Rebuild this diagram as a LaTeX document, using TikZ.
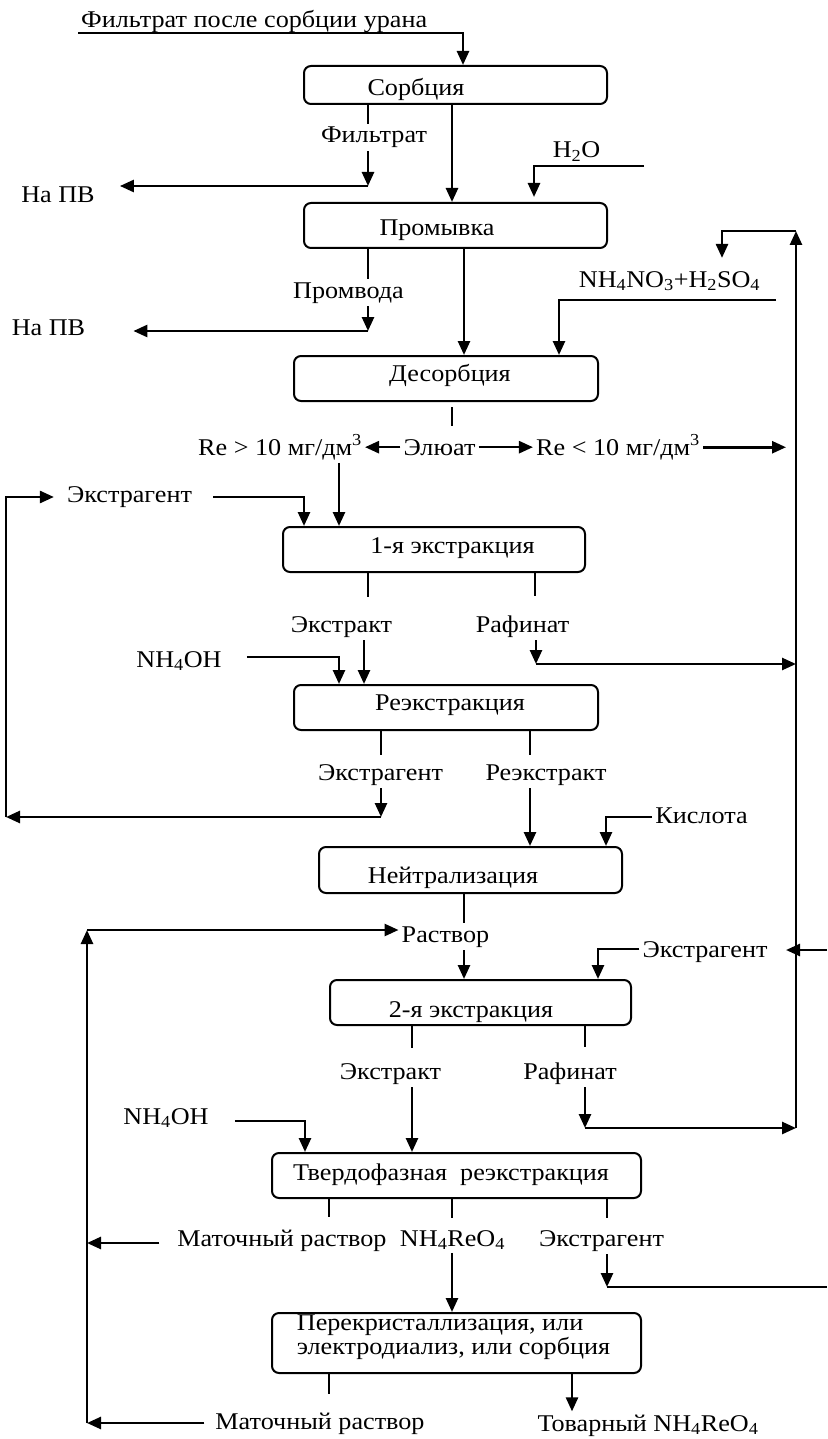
\documentclass[tikz,border=0pt]{standalone}
\usepackage{fontspec}
\setmainfont{Liberation Serif}[FakeStretch=1.09]
\usetikzlibrary{arrows.meta}
\tikzset{
  proc/.style={draw, line width=2pt, rounded corners=7pt, inner sep=0pt},
  lbl/.style={inner sep=3pt, anchor=base},
  line/.style={line width=2.6pt},
  flow/.style={line, -{Triangle[length=14pt,width=12pt]}},
  stub/.style={line width=1.5pt},
}

\begin{document}
\begin{tikzpicture}[x=1pt, y=-1pt, font=\fontsize{24}{24}\selectfont]
\useasboundingbox (0,0) rectangle (827,1439);

% stages
\node[proc, minimum width=303pt, minimum height=38pt, label={[inner sep=3pt, xshift=-39.5pt, yshift=-4.5pt]center:Сорбция}] (sorb) at (455.5,85) {};
\node[proc, minimum width=303pt, minimum height=45pt, label={[inner sep=3pt, xshift=-18.5pt, yshift=-4.4pt]center:Промывка}] (prom) at (455.5,225.5) {};
\node[proc, minimum width=304pt, minimum height=45pt, label={[inner sep=3pt, xshift=4pt, yshift=2.8pt]center:Десорбция}] (desorb) at (446,378.5) {};
\node[proc, minimum width=302pt, minimum height=45pt, label={[inner sep=3pt, xshift=18.5pt, yshift=1.7pt]center:1-я экстракция}] (ext1) at (434,549.5) {};
\node[proc, minimum width=304pt, minimum height=45pt, label={[inner sep=3pt, xshift=4pt, yshift=2.6pt]center:Реэкстракция}] (reext) at (446,707.5) {};
\node[proc, minimum width=303pt, minimum height=46pt, label={[inner sep=3pt, xshift=-17.5pt, yshift=-7.9pt]center:Нейтрализация}] (neut) at (470.5,870) {};
\node[proc, minimum width=301pt, minimum height=45pt, label={[inner sep=3pt, xshift=-9.5pt, yshift=-9.2pt]center:2-я экстракция}] (ext2) at (480.5,1002.5) {};
\node[proc, minimum width=369pt, minimum height=45pt, label={[inner sep=3pt, xshift=-5.5pt, yshift=1pt]center:Твердофазная\ \ реэкстракция}] (solid) at (456.5,1175.5) {};
\node[proc, minimum width=369pt, minimum height=60pt, label={[inner sep=3pt, align=left, xshift=-3pt, yshift=6.3pt]center:{Перекристаллизация, или\\электродиализ, или сорбция}}] (recr) at (456.5,1343) {};

% streams
\node[lbl, anchor=base west] (feed) at (78,28) {Фильтрат после сорбции урана};
\node[lbl] (filt) at (374,143) {Фильтрат};
\node[lbl] (napv1) at (58,203) {На ПВ};
\node[lbl] (h2o) at (576.5,158) {H\textsubscript{2}O};
\node[lbl] (promv) at (348.5,298) {Промвода};
\node[lbl] (napv2) at (48.5,335) {На ПВ};
\node[lbl] (nh4no3) at (669.5,287) {NH\textsubscript{4}NO\textsubscript{3}+H\textsubscript{2}SO\textsubscript{4}};
\node[lbl] (reHi) at (280,455) {Re > 10 мг/дм\textsuperscript{3}};
\node[lbl] (eluat) at (439.5,455) {Элюат};
\node[lbl] (reLo) at (618,455) {Re < 10 мг/дм\textsuperscript{3}};
\node[lbl] (extr1) at (129.5,502) {Экстрагент};
\node[lbl] (ex1) at (341.5,632) {Экстракт};
\node[lbl] (raf1) at (522.5,632) {Рафинат};
\node[lbl] (nh4oh1) at (179,667) {NH\textsubscript{4}OH};
\node[lbl] (extr2) at (380.5,780) {Экстрагент};
\node[lbl] (reextr) at (546,780) {Реэкстракт};
\node[lbl] (acid) at (701.5,823) {Кислота};
\node[lbl] (solut) at (445.5,942) {Раствор};
\node[lbl] (extr3) at (705,957) {Экстрагент};
\node[lbl] (ex2) at (390.5,1079) {Экстракт};
\node[lbl] (raf2) at (570,1079) {Рафинат};
\node[lbl] (nh4oh2) at (166,1124) {NH\textsubscript{4}OH};
\node[lbl] (moth1) at (282,1246) {Маточный раствор};
\node[lbl] (nhre) at (452.5,1246) {NH\textsubscript{4}ReO\textsubscript{4}};
\node[lbl] (extr4) at (601.5,1246) {Экстрагент};
\node[lbl] (moth2) at (320,1429) {Маточный раствор};
\node[lbl] (prod) at (648,1431) {Товарный NH\textsubscript{4}ReO\textsubscript{4}};

% corners
\coordinate (c1) at (463,33);
\coordinate (c2) at (368,186);
\coordinate (c3) at (452,150);
\coordinate (c4) at (644,166);
\coordinate (c5) at (534,166);
\coordinate (c6) at (368,331);
\coordinate (c7) at (464,300);
\coordinate (c8) at (776,300);
\coordinate (c9) at (559,300);
\coordinate (c10) at (722,231);
\coordinate (c11) at (452,420);
\coordinate (c12) at (339,490);
\coordinate (c13) at (304,497);
\coordinate (c14) at (381,817);
\coordinate (c15) at (368,600);
\coordinate (c16) at (535,600);
\coordinate (c17) at (364,660);
\coordinate (c18) at (339,657);
\coordinate (c19) at (536,664);
\coordinate (c20) at (530,800);
\coordinate (c21) at (606,817);
\coordinate (c22) at (464,930);
\coordinate (c23) at (598,949);
\coordinate (c24) at (412,1050);
\coordinate (c26) at (305,1121);
\coordinate (c27) at (585,1128);
\coordinate (c28) at (329,1210);
\coordinate (c29) at (452,1210);
\coordinate (c31) at (607,1287);
\coordinate (c32) at (329,1390);
\coordinate (c33) at (572,1390);
\coordinate (r1) at (796,231);
\coordinate (r2) at (796,1128);
\coordinate (r3) at (827,950);
\coordinate (r5) at (827,1287);
\coordinate (l1) at (6,497);
\coordinate (l2) at (6,817);
\coordinate (l3) at (87,930);
\coordinate (l4) at (87,1243);
\coordinate (l5) at (87,1423);

% sorption, washing
\draw[flow] (feed.south west |- c1) -- (c1) -- (c1 |- sorb.north);
\draw[stub] (c2 |- sorb.south) -- (c2 |- filt.north);
\draw[flow] (c2 |- filt.south) -- (c2);
\draw[flow, shorten >=22pt] (c2) -- (napv1.east |- c2);
\draw[flow] (c3 |- sorb.south) -- (c3 |- prom.north);
\draw[flow, shorten >=5pt] (c4) -- (c5) -- (c5 |- prom.north);
\draw[stub] (c6 |- prom.south) -- (c6 |- promv.north);
\draw[flow] (c6 |- promv.south) -- (c6);
\draw[flow, shorten >=45pt] (c6) -- (napv2.east |- c6);
\draw[flow] (c7 |- prom.south) -- (c7 |- desorb.north);
\draw[flow] (c8) -- (c9) -- (c9 |- desorb.north);

% right return line
\draw[flow] (r2) -- (r1);
\draw[flow, shorten >=10pt] (r1) -- (c10) -- (c10 |- nh4no3.north);

% eluate
\draw[stub, shorten <=5pt, shorten >=10pt] (c11 |- desorb.south) -- (c11 |- eluat.north);
\draw[flow] (eluat.west) -- (eluat.west -| reHi.east);
\draw[flow] (eluat.east) -- (eluat.east -| reLo.west);
\draw[flow, shorten >=10pt] (reLo.east) -- (reLo.east -| r1);
\draw[flow] (c12 |- reHi.south) -- (c12 |- ext1.north);

% 1st extraction
\draw[flow, shorten <=18pt] (extr1.east |- c13) -- (c13) -- (c13 |- ext1.north);
\draw[flow, shorten >=10pt] (l2) -- (l1) -- (l1 -| extr1.west);
\draw[stub, shorten >=16pt] (c15 |- ext1.south) -- (c15 |- ex1.north);
\draw[stub, shorten >=16pt] (c16 |- ext1.south) -- (c16 |- raf1.north);
\draw[flow] (c17 |- ex1.south) -- (c17 |- reext.north);
\draw[flow, shorten <=22pt] (nh4oh1.east |- c18) -- (c18) -- (c18 |- reext.north);
\draw[flow] (c19 |- raf1.south) -- (c19);
\draw[flow] (c19) -- (c19 -| r1);

% stripping, neutralisation
\draw[stub, shorten >=6pt] (c14 |- reext.south) -- (c14 |- extr2.north);
\draw[flow] (c14 |- extr2.south) -- (c14);
\draw[flow] (c14) -- (l2);
\draw[stub, shorten >=6pt] (c20 |- reext.south) -- (c20 |- reextr.north);
\draw[flow] (c20 |- reextr.south) -- (c20 |- neut.north);
\draw[flow] (acid.west |- c21) -- (c21) -- (c21 |- neut.north);
\draw[stub] (c22 |- neut.south) -- (c22 |- solut.north);
\draw[flow] (c22 |- solut.south) -- (c22 |- ext2.north);
\draw[flow] (l5) -- (l3);
\draw[flow] (l3) -- (l3 -| solut.west);

% 2nd extraction
\draw[flow] (extr3.west |- c23) -- (c23) -- (c23 |- ext2.north);
\draw[flow, shorten >=-10pt] (r3) -- (r3 -| r1);
\draw[stub, shorten >=12pt] (c24 |- ext2.south) -- (c24 |- ex2.north);
\draw[stub, shorten >=12pt] (c27 |- ext2.south) -- (c27 |- raf2.north);
\draw[flow] (c24 |- ex2.south) -- (c24 |- solid.north);
\draw[flow, shorten <=23pt] (nh4oh2.east |- c26) -- (c26) -- (c26 |- solid.north);
\draw[flow] (c27 |- raf2.south) -- (c27);
\draw[flow] (c27) -- (r2);

% solid stripping, refining
\draw[stub, shorten >=9pt] (c28 |- solid.south) -- (c28 |- moth1.north);
\draw[stub, shorten >=9pt] (c29 |- solid.south) -- (c29 |- nhre.north);
\draw[stub, shorten >=9pt] (c31 |- solid.south) -- (c31 |- extr4.north);
\draw[flow, shorten <=15pt] (moth1.west |- l4) -- (l4);
\draw[flow] (c29 |- nhre.south) -- (c29 |- recr.north);
\draw[flow] (c31 |- extr4.south) -- (c31);
\draw[line] (c31) -- (r5);
\draw[stub, shorten >=15pt] (c32 |- recr.south) -- (c32 |- moth2.north);
\draw[flow, shorten <=8pt] (moth2.west |- l5) -- (l5);
\draw[flow] (c33 |- recr.south) -- (c33 |- prod.north);
\end{tikzpicture}
\end{document}
